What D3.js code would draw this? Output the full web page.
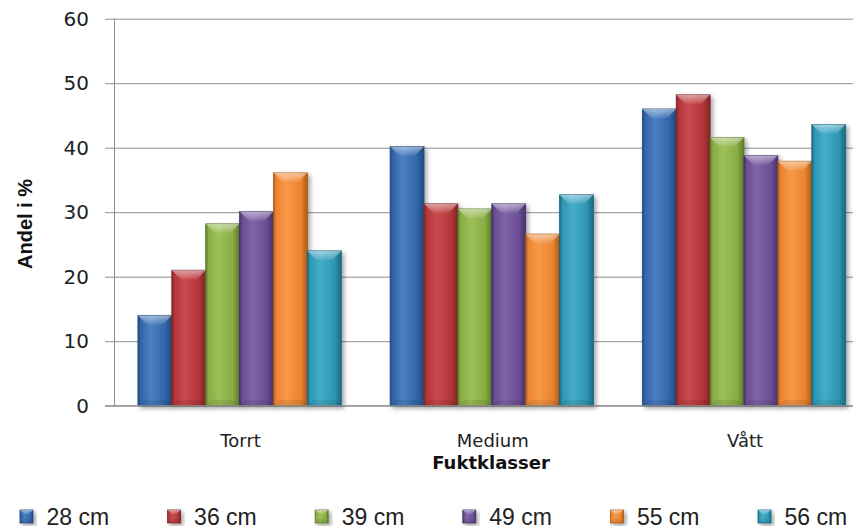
<!DOCTYPE html>
<html>
<head>
<meta charset="utf-8">
<script src="https://cdn.jsdelivr.net/npm/d3@7"></script>
<style>
  html, body { margin: 0; padding: 0; background: #fff; }
  svg { display: block; }
</style>
</head>
<body>
<svg id="chart" width="853" height="531"></svg>
<script>
// Moisture classes and the tree-height series
const categories = ["Torrt", "Medium", "Vått"];
const seriesNames = ["28 cm", "36 cm", "39 cm", "49 cm", "55 cm", "56 cm"];

// Share (%) per series, one value per moisture class
const v28 = [14.0, 40.2, 46.0];
const v36 = [21.0, 31.3, 48.2];
const v39 = [28.2, 30.5, 41.6];
const v49 = [30.1, 31.3, 38.8];
const v55 = [36.1, 26.6, 37.9];
const v56 = [24.0, 32.7, 43.6];
const seriesValues = [v28, v36, v39, v49, v55, v56];

const yTicks = [0, 10, 20, 30, 40, 50, 60];

// Bar palette: [dark edge, base, highlight]
const palette = [
  ["#22497e", "#3165a8", "#4a80c2"],
  ["#7f2325", "#b3363a", "#c94a4d"],
  ["#5d7a2a", "#88ad43", "#9dc05a"],
  ["#47306a", "#6a4e94", "#8065a8"],
  ["#ad5b15", "#ec8330", "#f7994a"],
  ["#1b6780", "#2d96b3", "#45adc9"]
];

const svg = d3.select("#chart");
const plotLeft = 114.5, plotTop = 18.7, plotBottom = 405.7;
const groupStep = 252.2;
const plotRight = plotLeft + groupStep * categories.length;

const x0 = d3.scaleBand().domain(categories).range([plotLeft, plotRight]).padding(0);
const x1 = d3.scaleBand().domain(seriesNames).range([0, x0.bandwidth()])
  .paddingInner(0).paddingOuter(0.72).align(0.48);
const y = d3.scaleLinear().domain([0, 60]).range([plotBottom, plotTop]);

const defs = svg.append("defs");
const shadow = defs.append("filter").attr("id", "shadow")
  .attr("x", "-20%").attr("y", "-10%").attr("width", "150%").attr("height", "130%");
shadow.append("feDropShadow").attr("dx", 2.5).attr("dy", 2.5)
  .attr("stdDeviation", 2).attr("flood-color", "#000").attr("flood-opacity", 0.35);

palette.forEach((c, i) => {
  const g = defs.append("linearGradient").attr("id", "body" + i)
    .attr("x1", "0").attr("x2", "1").attr("y1", "0").attr("y2", "0");
  [[0, c[0]], [0.08, c[1]], [0.38, c[2]], [0.8, c[1]], [1, c[0]]].forEach(([o, col]) =>
    g.append("stop").attr("offset", o).attr("stop-color", col));
  const t = defs.append("linearGradient").attr("id", "bevel" + i)
    .attr("x1", "0").attr("x2", "0").attr("y1", "0").attr("y2", "1");
  t.append("stop").attr("offset", 0).attr("stop-color", "#fff").attr("stop-opacity", 0.5);
  t.append("stop").attr("offset", 1).attr("stop-color", "#fff").attr("stop-opacity", 0.08);
});

// Gridlines with left tick marks and labels
const yAxis = d3.axisLeft(y).tickValues(yTicks)
  .tickSizeInner(-(plotRight - plotLeft + 9.5)).tickSizeOuter(0).tickPadding(16);
const gy = svg.append("g").attr("transform", "translate(105,0)").call(yAxis);
gy.select(".domain").remove();
gy.selectAll(".tick line").attr("stroke", "#8e8e8e").attr("stroke-width", 1);
gy.selectAll(".tick text").attr("font-family", "DejaVu Sans")
  .attr("font-size", 20).attr("fill", "#222");

// Vertical axis line
svg.append("line").attr("x1", plotLeft).attr("x2", plotLeft).attr("y1", plotTop).attr("y2", plotBottom)
  .attr("stroke", "#8e8e8e").attr("stroke-width", 1);

// Category labels
const xAxis = d3.axisBottom(x0).tickSize(0).tickPadding(28.5);
const gx = svg.append("g").attr("transform", `translate(0,${plotBottom})`).call(xAxis);
gx.select(".domain").remove();
gx.selectAll(".tick text").attr("font-family", "DejaVu Sans")
  .attr("font-size", 18).attr("fill", "#222");

// Bevelled bar with drop shadow
function drawBar(g, i, bx, by, bw, bh) {
  const c = palette[i];
  const cell = g.append("g").attr("filter", "url(#shadow)");
  cell.append("rect").attr("x", bx).attr("y", by).attr("width", bw).attr("height", bh)
    .attr("fill", `url(#body${i})`).attr("stroke", c[0]).attr("stroke-width", 0.8);
  const bev = Math.min(9, bh / 2, bw / 3);
  cell.append("path")
    .attr("d", `M${bx},${by}L${bx + bw},${by}L${bx + bw - bev},${by + bev}L${bx + bev},${by + bev}Z`)
    .attr("fill", `url(#bevel${i})`);
  const bb = Math.min(6, bh / 3);
  cell.append("path")
    .attr("d", `M${bx},${by + bh}L${bx + bw},${by + bh}L${bx + bw - bb},${by + bh - bb}L${bx + bb},${by + bh - bb}Z`)
    .attr("fill", "#000").attr("fill-opacity", 0.08);
}

const barsG = svg.append("g");
categories.forEach((cat, ci) => {
  seriesNames.forEach((s, si) => {
    const val = seriesValues[si][ci];
    const bx = x0(cat) + x1(s);
    drawBar(barsG, si, bx, y(val), x1.bandwidth(), y(0) - y(val));
  });
});

// Baseline
svg.append("line").attr("x1", 105).attr("x2", plotRight).attr("y1", plotBottom).attr("y2", plotBottom)
  .attr("stroke", "#8e8e8e").attr("stroke-width", 1);

// Axis titles
svg.append("text").attr("transform", "translate(32,224) rotate(-90)")
  .attr("text-anchor", "middle").attr("font-family", "Liberation Sans")
  .attr("font-weight", "bold").attr("font-size", 20).attr("fill", "#111")
  .text("Andel i %");
svg.append("text").attr("x", 491).attr("y", 469)
  .attr("text-anchor", "middle").attr("font-family", "DejaVu Sans")
  .attr("font-weight", "bold").attr("font-size", 18).attr("fill", "#111")
  .text("Fuktklasser");

// Legend
const legend = svg.append("g");
seriesNames.forEach((s, i) => {
  const lx = 20 + i * 147.6;
  const item = legend.append("g");
  drawBar(item, i, lx, 510, 13, 13);
  item.append("text").attr("x", lx + 26.5).attr("y", 525)
    .attr("font-family", "Liberation Sans").attr("font-size", 23).attr("fill", "#222")
    .text(s);
});
</script>
</body>
</html>
